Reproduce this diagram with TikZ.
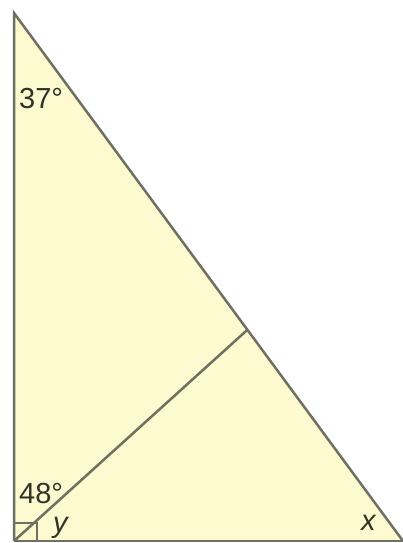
\documentclass[tikz,border=0pt]{standalone}
\usepackage{fontspec}
\setmainfont{Liberation Sans}
\usetikzlibrary{calc}
\definecolor{fillyel}{RGB}{253,250,208}
\definecolor{edgegray}{RGB}{112,112,98}
\definecolor{txt}{RGB}{50,50,40}
\tikzset{
  edge/.style={draw=edgegray, line width=2.5pt, line join=miter},
  lbl/.style={inner sep=0pt, text=txt, font=\fontsize{29}{29}\selectfont},
}
\begin{document}
\begin{tikzpicture}[x=1pt,y=-1pt]
\useasboundingbox (0,0) rectangle (402,543);
\coordinate (T) at (14,13);
\coordinate (L) at (14,541);
\coordinate (R) at (403,541);
\coordinate (J) at ($(T)!0.600!(R)$);
\fill[fillyel] (T) -- (L) -- (R) -- cycle;
\draw[edge] (L) -- (J);
\draw[edge] (L) -- (T) -- (R);
\draw[edgegray, line width=1.2pt] (L) -- (R);
\draw[edge, line width=2pt] (14,523) -- (37,523) -- (37,541);
\node[lbl, anchor=base west] (a37) at (19,108.5) {37°};
\node[lbl, anchor=base west] (a48) at (19,503) {48°};
\node[lbl, anchor=base west] (ly) at (53,532) {\itshape y};
\node[lbl, anchor=base west] (lx) at (361,530) {\itshape x};
\end{tikzpicture}
\end{document}
